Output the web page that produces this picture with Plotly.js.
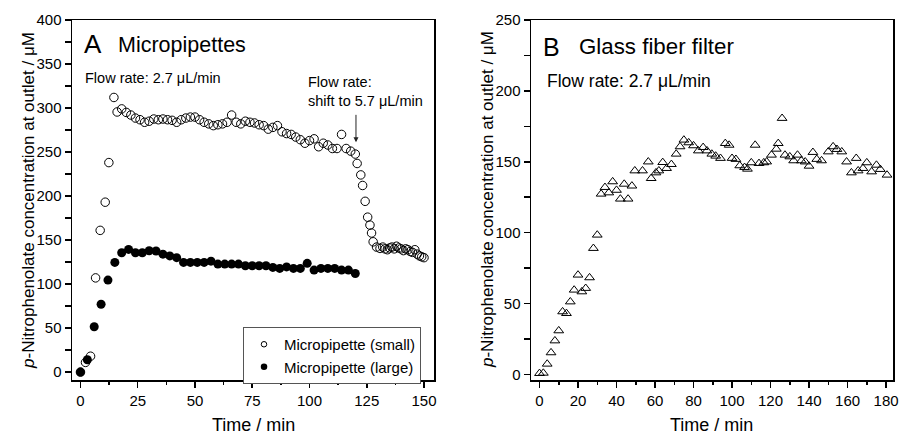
<!DOCTYPE html>
<html>
<head>
<meta charset="utf-8">
<script src="https://cdn.plot.ly/plotly-3.0.1.min.js"></script>
<style>html,body{margin:0;padding:0;background:#fff;}#chart{width:900px;height:434px;}</style>
</head>
<body>
<div id="chart"></div>
<script>
// Panel A: micropipette (small), open circles
const smallTime = [0, 2.2, 4.4, 6.6, 8.6, 10.8, 12.4, 14.6,
  16, 18, 20, 22, 24, 26, 28, 30, 32, 34, 36, 38, 40, 42, 44, 46, 48, 50,
  52, 54, 56, 58, 60, 62, 64, 66, 68, 70, 72, 74, 76, 78, 80, 82, 84, 86, 88, 90,
  92, 94, 96, 98, 100, 102, 104, 106, 108, 110, 112, 114, 116, 118, 120,
  120.8, 122.4, 123.2, 124.3, 125.4, 126.4, 127.1, 127.8, 129.3, 130.8,
  132, 133, 134, 135, 136, 137, 138, 139, 140, 141, 142, 143, 144, 145, 146, 147, 148, 149, 150];
const smallConc = [0, 11, 18, 107, 161, 193, 238, 312,
  295.5, 299, 295, 292, 288.6, 286.7, 283.8, 285, 287.5, 286.7, 287.5, 286.7, 286, 283.8, 286.7, 288.6, 289.7, 289.7,
  286.7, 283.8, 282, 280, 281, 282, 283.8, 292, 283.8, 282, 285, 283.8, 283, 281, 280, 276, 278, 280, 273, 271,
  270, 267, 264, 260, 263, 265, 256, 260, 258, 254, 254, 270, 254, 251, 247.7,
  237, 224, 212, 194, 176, 167, 158, 148, 142, 140.5,
  142, 140, 139, 141, 142, 140, 143, 141, 140, 138, 140, 139, 137, 136, 139, 134, 132, 131, 130];

// Panel A: micropipette (large), filled circles
const largeTime = [0, 3, 6, 9, 12, 15, 18, 21, 24, 27, 30, 33, 36, 39, 42, 45, 48, 51, 54, 57, 60,
  63, 66, 69, 72, 75, 78, 81, 84, 87, 90, 93, 96, 99, 102, 105, 108, 111, 114, 117, 120];
const largeConc = [0, 14, 51.5, 77, 104.5, 124.6, 135.6, 139.4, 135.6, 135.6, 137.9, 137.5, 134, 132, 130, 124.6, 124.6, 124.6, 124.6, 126, 122.7,
  122.7, 122.7, 122.7, 120.8, 120.8, 120.8, 120.8, 118.9, 117.8, 119.5, 117.8, 117.8, 123.5, 115.9, 117.8, 117.8, 117.8, 115.9, 115.9, 112];

// Panel B: glass fiber filter, open triangles
const filterTime = [0, 2, 4, 6, 8, 10, 12, 14, 16, 18, 20, 22, 24, 26, 28, 30, 32, 34, 36, 38, 40, 42, 44, 46, 48,
  49.5, 53.5, 56.5, 58, 60.5, 62, 64, 66, 68.5, 71, 73, 75, 77.5, 80, 82.5, 85, 87, 89.5, 91.5, 94, 96.5, 98.5,
  100, 102, 104, 106.5, 108, 110, 112, 114, 116.5, 118, 120.5, 123, 124, 126, 127.5, 130, 132, 134, 136, 138,
  140, 142, 144, 146.5, 150, 152.5, 154.5, 157, 159.5, 162, 164.5, 165.5, 168, 170, 172.5, 175, 177, 180.5];
const filterConc = [0.8, 1, 7.4, 15.4, 23.8, 30.9, 44.3, 43.1, 51.3, 59.6, 70.2, 58.4, 60.8, 68.3, 89, 98.4, 127.3, 132, 128.2, 136, 130, 123.8, 134.3, 123.8, 133,
  143.7, 143.7, 150, 138.3, 142.3, 143.7, 149.6, 145.4, 148.2, 155.5, 160.7, 165.4, 163.5, 161.4, 157.8, 160.2, 157.8, 155.5, 154.1, 152.5, 163, 161.8,
  152.5, 151.8, 147.3, 146.1, 144.9, 149.4, 161.8, 148.9, 149.4, 150, 154.8, 159, 163, 180.7, 154.8, 153.6, 150.8, 154.8, 150.8, 150,
  147, 156.7, 151.8, 150.8, 157.1, 160.7, 158.8, 157.1, 150, 142.3, 152.5, 143.7, 145.4, 149.4, 143, 147.7, 144.7, 140.7];

const legendNames = ['Micropipette (small)', 'Micropipette (large)'];
const yTitle = '<i>p</i>-Nitrophenolate concentration at outlet / \u03bcM';
const xTitle = 'Time / min';

const FONT = '"Liberation Sans", Arial, Helvetica, sans-serif';

const traces = [
  {x: smallTime, y: smallConc, type: 'scatter', mode: 'markers', xaxis: 'x', yaxis: 'y', showlegend: false,
   marker: {symbol: 'circle-open', size: 8.5, color: '#000', line: {width: 1, color: '#000'}}},
  {x: largeTime, y: largeConc, type: 'scatter', mode: 'markers', xaxis: 'x', yaxis: 'y', showlegend: false,
   marker: {symbol: 'circle', size: 9, color: '#000'}},
  {x: filterTime, y: filterConc, type: 'scatter', mode: 'markers', xaxis: 'x2', yaxis: 'y2', showlegend: false,
   marker: {symbol: 'triangle-up-open', size: 8.5, color: '#000', line: {width: 1, color: '#000'}}},
  {x: [null], y: [null], type: 'scatter', mode: 'markers', name: legendNames[0], xaxis: 'x', yaxis: 'y',
   marker: {symbol: 'circle-open', size: 5.5, color: '#000', line: {width: 1, color: '#000'}}},
  {x: [null], y: [null], type: 'scatter', mode: 'markers', name: legendNames[1], xaxis: 'x', yaxis: 'y',
   marker: {symbol: 'circle', size: 6.5, color: '#000'}}
];

function axisBase() {
  return {
    showline: true, linewidth: 1.5, linecolor: '#000', mirror: true,
    showgrid: false, zeroline: false,
    ticks: 'outside', ticklen: 6.5, tickwidth: 1.5, tickcolor: '#000',
    tickfont: {family: FONT, size: 15, color: '#000'}
  };
}

const layout = {
  width: 900, height: 434,
  margin: {l: 72, r: 7, t: 20, b: 54},
  paper_bgcolor: '#fff', plot_bgcolor: '#fff',
  font: {family: FONT, color: '#000'},
  xaxis: Object.assign(axisBase(), {domain: [0, 0.4413], range: [-3.7, 154.5], anchor: 'y',
    tick0: 0, dtick: 25,
    minor: {dtick: 12.5, ticks: 'outside', ticklen: 3.5, tickwidth: 1.5, tickcolor: '#000', showgrid: false}}),
  yaxis: Object.assign(axisBase(), {domain: [0, 1], range: [-9, 400], anchor: 'x',
    tick0: 0, dtick: 50, ticklen: 6,
    minor: {dtick: 25, ticks: 'outside', ticklen: 6, tickwidth: 1.5, tickcolor: '#000', showgrid: false}}),
  xaxis2: Object.assign(axisBase(), {domain: [0.5591, 1], range: [-4.4, 183.6], anchor: 'y2',
    tick0: 0, dtick: 20,
    minor: {dtick: 10, ticks: 'outside', ticklen: 3.5, tickwidth: 1.5, tickcolor: '#000', showgrid: false}}),
  yaxis2: Object.assign(axisBase(), {domain: [0, 1], range: [-3.9, 250], anchor: 'x2',
    tick0: 0, dtick: 50, ticklen: 6,
    minor: {dtick: 25, ticks: 'outside', ticklen: 6, tickwidth: 1.5, tickcolor: '#000', showgrid: false}}),
  showlegend: true,
  legend: {x: 0.2083, y: 0.1472, xanchor: 'left', yanchor: 'top',
    bgcolor: '#fff', bordercolor: '#555', borderwidth: 1,
    font: {family: FONT, size: 15, color: '#000'}, tracegroupgap: 0},
  annotations: [
    {xref: 'x', yref: 'y', x: 0.6, y: 372.7, text: 'A', showarrow: false, xanchor: 'left', yanchor: 'middle',
     font: {family: FONT, size: 26}},
    {xref: 'x', yref: 'y', x: 15.3, y: 371.6, text: 'Micropipettes', showarrow: false, xanchor: 'left', yanchor: 'middle',
     font: {family: FONT, size: 21.5}},
    {xref: 'x', yref: 'y', x: 1.0, y: 334, text: 'Flow rate: 2.7 \u03bcL/min', showarrow: false, xanchor: 'left', yanchor: 'middle',
     font: {family: FONT, size: 14.5}},
    {xref: 'x', yref: 'y', x: 98.5, y: 319.3, text: 'Flow rate:<br>shift to 5.7 \u03bcL/min', showarrow: false,
     xanchor: 'left', yanchor: 'middle', align: 'left', font: {family: FONT, size: 14.5}},
    {xref: 'x', yref: 'y', x: 120.3, y: 261, text: '', showarrow: true, ax: 0, ay: -29,
     arrowhead: 2, arrowsize: 1, arrowwidth: 1, arrowcolor: '#222', standoff: 0},
    {xref: 'x2', yref: 'y2', x: 1.0, y: 231, text: 'B', showarrow: false, xanchor: 'left', yanchor: 'middle',
     font: {family: FONT, size: 25}},
    {xref: 'x2', yref: 'y2', x: 19.6, y: 231, text: 'Glass fiber filter', showarrow: false, xanchor: 'left', yanchor: 'middle',
     font: {family: FONT, size: 22.3}},
    {xref: 'x2', yref: 'y2', x: 2.6, y: 206.8, text: 'Flow rate: 2.7 \u03bcL/min', showarrow: false, xanchor: 'left', yanchor: 'middle',
     font: {family: FONT, size: 17.5}},
    {xref: 'paper', yref: 'paper', x: -0.0536, y: 0.5, text: yTitle, textangle: -90, showarrow: false,
     xanchor: 'center', yanchor: 'middle', font: {family: FONT, size: 17}},
    {xref: 'paper', yref: 'paper', x: 0.5055, y: 0.5, text: yTitle, textangle: -90, showarrow: false,
     xanchor: 'center', yanchor: 'middle', font: {family: FONT, size: 17}},
    {xref: 'paper', yref: 'paper', x: 0.2205, y: -0.125, text: xTitle, showarrow: false,
     xanchor: 'center', yanchor: 'middle', font: {family: FONT, size: 18}},
    {xref: 'paper', yref: 'paper', x: 0.7795, y: -0.125, text: xTitle, showarrow: false,
     xanchor: 'center', yanchor: 'middle', font: {family: FONT, size: 18}}
  ]
};

Plotly.newPlot('chart', traces, layout, {displayModeBar: false, staticPlot: true});
</script>
</body>
</html>
